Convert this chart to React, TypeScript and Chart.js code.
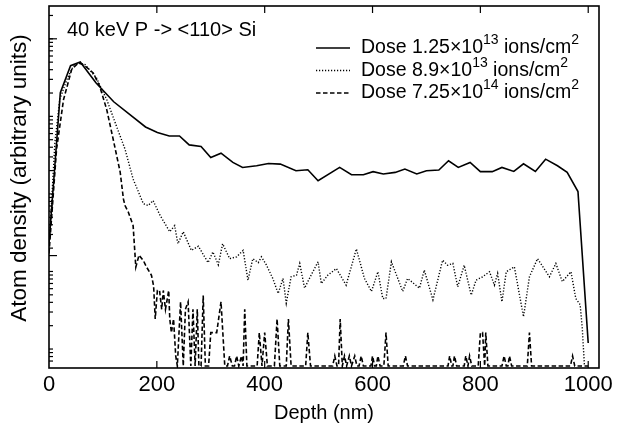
import React, { useEffect, useRef } from "react";
import { Chart, registerables } from "chart.js";

Chart.register(...registerables);

const FONT = "'Liberation Sans', Arial, Helvetica, sans-serif";

// ---- axis ticks ----
const xTickValues = [0, 200, 400, 600, 800, 1000];
const xTickLabels = ["0", "200", "400", "600", "800", "1000"];
const xMin = 0;
const xMax = 1020;
const yMin = 0.744;
const yMax = 32570;
const yLongTickValues = [12295, 19.7];
const yTickFactor = 1.2295;

// ---- series: Dose 1.25e13 (solid) ----
const solidDepth = [0, 21, 40, 58, 87, 120, 179, 201, 223, 242, 260, 282, 300, 319, 341, 359, 385, 407, 429, 458, 480, 499, 539, 561, 583, 601, 620, 642, 660, 682, 700, 723, 741, 759, 781, 800, 822, 840, 862, 880, 902, 921, 943, 961, 981, 1000];
const solidDensity = [28, 2477, 5543, 6180, 3326, 1897, 897, 760, 687, 687, 527, 502, 363, 412, 313, 270, 284, 304, 298, 245, 252, 182, 270, 217, 217, 238, 222, 233, 257, 222, 245, 250, 329, 270, 313, 238, 238, 270, 240, 301, 240, 345, 284, 233, 132, 1.47];

// ---- series: Dose 8.9e13 (dotted) ----
const dottedDepth = [0, 11, 20, 33, 45, 57, 67, 88, 98, 107, 125, 141, 156, 175, 184, 193, 206, 224, 233, 239, 249, 264, 277, 295, 304, 314, 322, 335, 348, 360, 369, 378, 388, 394, 403, 415, 425, 434, 440, 449, 459, 465, 474, 483, 499, 505, 517, 533, 551, 570, 585, 598, 610, 619, 625, 635, 656, 665, 687, 696, 712, 730, 739, 749, 758, 770, 783, 792, 804, 817, 826, 832, 840, 848, 863, 880, 891, 906, 928, 940, 952, 968, 977, 985, 989, 993];
const dottedDensity = [24, 571, 2030, 3660, 5430, 6000, 5700, 3855, 2730, 2030, 923, 464, 191, 92, 87, 101, 65, 40, 48, 28, 40, 23, 26, 16, 22, 15, 28, 18, 19, 23, 9.5, 18, 16, 19, 15, 10, 6.4, 10, 4.8, 10.5, 11, 15.6, 7.5, 10, 16.4, 8.6, 11, 13.4, 8.2, 24, 10, 6.8, 12.2, 5.5, 5.5, 16.4, 6.8, 10, 7.5, 12.8, 5.3, 17.2, 14.8, 15.6, 7.8, 14.8, 6.1, 9.5, 10.5, 12.2, 8.2, 11.6, 5.0, 12.2, 14.1, 3.2, 10.5, 18, 10.5, 15.6, 9.1, 12.2, 5.5, 4.6, 2.3, 0];

// ---- series: Dose 7.25e14 (dashed) ----
const dashedDepth = [0, 14, 27, 42, 54, 64, 82, 94, 107, 119, 132, 138, 141, 147, 156, 159, 161, 167, 175, 181, 190, 194, 197, 201, 205, 209, 212, 216, 222, 224, 227, 231, 235, 238, 244, 249, 253, 258, 263, 267, 271, 275, 278, 282, 286, 290, 296, 300, 311, 319, 326, 331, 335, 340, 344, 348, 352, 357, 360, 363, 367, 386, 390, 395, 400, 405, 418, 423, 428, 440, 444, 449, 476, 480, 485, 526, 530, 534, 537, 540, 544, 548, 552, 557, 561, 567, 571, 575, 579, 583, 597, 600, 604, 607, 610, 614, 621, 625, 629, 657, 661, 665, 740, 743, 747, 749, 752, 756, 770, 773, 777, 780, 784, 796, 800, 804, 808, 810, 814, 840, 844, 848, 851, 854, 858, 887, 891, 895, 967, 971, 975, 1000];
const dashedDensity = [21, 464, 2030, 4920, 6000, 5700, 4470, 3010, 1512, 624, 235, 106, 87, 72, 48, 23, 14, 20, 17, 14, 11, 8, 3, 7, 7, 4, 7, 4, 7, 3, 2, 3, 1, 0, 5, 0, 4, 5, 0, 4, 0, 4, 0, 0, 6, 0, 0, 2, 2, 5, 0, 0, 1, 0, 0, 1, 0, 1, 0, 4, 0, 0, 2, 0, 2, 0, 0, 3, 0, 0, 3, 0, 0, 2, 0, 0, 1, 0, 0, 3, 0, 1, 0, 1, 0, 1, 0, 0, 1, 0, 0, 1, 0, 0, 1, 0, 0, 2, 0, 0, 1, 0, 0, 1, 0, 0, 1, 0, 0, 1, 0, 1, 0, 0, 2, 2, 0, 2, 0, 0, 1, 0, 0, 1, 0, 0, 2, 0, 0, 1, 0, 0];

// ---- text ----
const plotTitle = "40 keV P -> <110> Si";
const xTitle = "Depth (nm)";
const yTitle = "Atom density (arbitrary units)";
const legendMantissa = ["1.25", "8.9", "7.25"];
const legendExponent = ["13", "13", "14"];

const lineStyles = [
  { dash: [] as number[], width: 1.6 },
  { dash: [1.2, 1.8], width: 1.4 },
  { dash: [4.5, 2.5], width: 1.6 },
];

// zero counts sit on the floor of the log axis
function toPoints(xs: number[], ys: number[]) {
  return xs.map((x, i) => ({ x, y: ys[i] > 0 ? ys[i] : yMin }));
}

function yMinorTickValues(): number[] {
  const out: number[] = [];
  for (let n = -2; n <= 5; n++) {
    for (let k = 1; k <= 9; k++) {
      const v = k * Math.pow(10, n) * yTickFactor;
      if (v > yMin && v < yMax) out.push(v);
    }
  }
  return out;
}

const decorPlugin = {
  id: "decor",
  afterDraw(chart: any) {
    const { ctx, chartArea: a, scales } = chart;
    const xs = scales.x;
    const ys = scales.y;
    const line = (x1: number, y1: number, x2: number, y2: number) => {
      ctx.beginPath();
      ctx.moveTo(x1, y1);
      ctx.lineTo(x2, y2);
      ctx.stroke();
    };
    ctx.save();
    ctx.strokeStyle = "#000";
    ctx.setLineDash([]);
    ctx.lineWidth = 1.6;
    ctx.strokeRect(a.left, a.top, a.right - a.left, a.bottom - a.top);
    ctx.lineWidth = 1.2;
    xTickValues.forEach((v) => {
      const px = xs.getPixelForValue(v);
      if (px <= a.left + 1) return;
      line(px, a.bottom, px, a.bottom - 7);
      line(px, a.top, px, a.top + 7);
    });
    yMinorTickValues().forEach((v) => {
      const py = ys.getPixelForValue(v);
      line(a.left, py, a.left + 4, py);
    });
    yLongTickValues.forEach((v) => {
      const py = ys.getPixelForValue(v);
      line(a.left, py, a.left + 8, py);
    });

    ctx.fillStyle = "#000";

    // y axis title
    ctx.save();
    ctx.translate(20, 178);
    ctx.rotate(-Math.PI / 2);
    ctx.textAlign = "center";
    ctx.textBaseline = "middle";
    ctx.font = `22.5px ${FONT}`;
    ctx.fillText(yTitle, 0, 0);
    ctx.restore();

    // inner title
    ctx.textBaseline = "middle";
    ctx.textAlign = "left";
    ctx.font = `20px ${FONT}`;
    ctx.fillText(plotTitle, a.left + 18, a.top + 24);

    // legend
    const rowY = [48, 70.5, 93];
    const lx1 = 316;
    const lx2 = 350;
    const tx = 361;
    rowY.forEach((yy, i) => {
      ctx.setLineDash(lineStyles[i].dash);
      ctx.lineWidth = lineStyles[i].width;
      line(lx1, yy, lx2, yy);
      ctx.setLineDash([]);
      let x = tx;
      const big = `19.5px ${FONT}`;
      const small = `14px ${FONT}`;
      const parts: [string, boolean][] = [
        [`Dose ${legendMantissa[i]}\u00d710`, false],
        [legendExponent[i], true],
        [" ions/cm", false],
        ["2", true],
      ];
      parts.forEach(([t, sup]) => {
        ctx.font = sup ? small : big;
        ctx.fillText(t, x, sup ? yy - 7.5 : yy);
        x += ctx.measureText(t).width;
      });
    });
    ctx.restore();
  },
};

export default function App() {
  const ref = useRef<HTMLCanvasElement>(null);
  useEffect(() => {
    const datasets = [
      toPoints(solidDepth, solidDensity),
      toPoints(dottedDepth, dottedDensity),
      toPoints(dashedDepth, dashedDensity),
    ].map((data, i) => ({
      label: `Dose ${legendMantissa[i]}x10^${legendExponent[i]}`,
      data,
      borderColor: "#000",
      backgroundColor: "#000",
      borderWidth: lineStyles[i].width,
      borderDash: lineStyles[i].dash,
      pointRadius: 0,
      tension: 0,
      fill: false,
    }));
    const chart = new Chart(ref.current as HTMLCanvasElement, {
      type: "line",
      data: { datasets },
      options: {
        animation: false,
        responsive: false,
        devicePixelRatio: 1,
        layout: { padding: { left: 0, right: 21, top: 6, bottom: 0 } },
        plugins: { legend: { display: false }, tooltip: { enabled: false } },
        scales: {
          x: {
            type: "linear",
            min: xMin,
            max: xMax,
            grid: { display: false, drawTicks: false },
            border: { display: false },
            afterBuildTicks: (scale: any) => {
              scale.ticks = xTickValues.map((v) => ({ value: v }));
            },
            afterFit: (scale: any) => {
              scale.height = 69;
            },
            ticks: {
              color: "#000",
              padding: 4,
              maxRotation: 0,
              autoSkip: false,
              font: { family: FONT, size: 22 },
              callback: (v: any) => xTickLabels[xTickValues.indexOf(Number(v))] ?? "",
            },
            title: {
              display: true,
              text: xTitle,
              color: "#000",
              font: { family: FONT, size: 20 },
              padding: { top: 0, bottom: 12 },
            },
          },
          y: {
            type: "logarithmic",
            min: yMin,
            max: yMax,
            grid: { display: false, drawTicks: false },
            border: { display: false },
            ticks: { display: false },
            afterFit: (scale: any) => {
              scale.width = 49;
            },
          },
        },
      },
      plugins: [decorPlugin],
    } as any);
    return () => chart.destroy();
  }, []);
  return (
    <div style={{ position: "absolute", left: 0, top: 0, width: 620, height: 437, background: "#fff" }}>
      <canvas ref={ref} width={620} height={437} style={{ width: 620, height: 437, display: "block" }} />
    </div>
  );
}
